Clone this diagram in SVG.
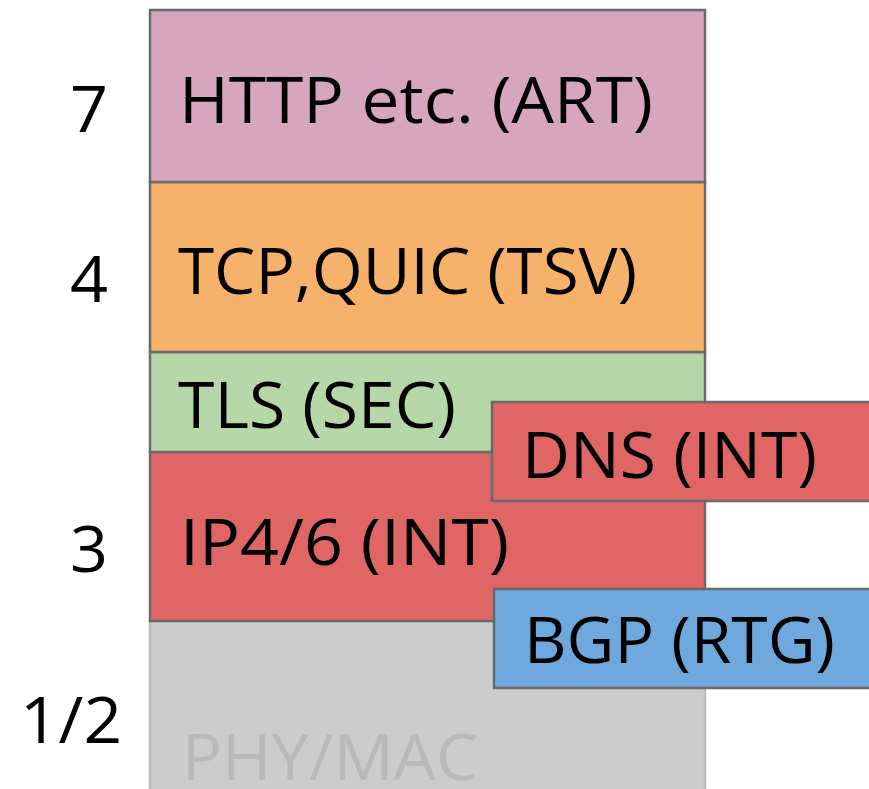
<svg xmlns="http://www.w3.org/2000/svg" width="869" height="789" viewBox="0 0 869 789">
<style>
.box{stroke:#6a6a6a;stroke-width:2.5}
.t{font-family:"Open Sans","Noto Sans","Liberation Sans",sans-serif;font-size:64px;fill:#000}
.n{font-family:"Open Sans","Noto Sans","Liberation Sans",sans-serif;font-size:64px;fill:#000}
</style>
<rect width="869" height="789" fill="#fff"/>
<g id="labels">
<text class="n" x="70" y="132" textLength="38" lengthAdjust="spacingAndGlyphs">7</text>
<text class="n" x="70" y="302" textLength="38" lengthAdjust="spacingAndGlyphs">4</text>
<text class="n" x="70" y="572" textLength="38" lengthAdjust="spacingAndGlyphs">3</text>
<text class="n" x="20" y="743" textLength="102" lengthAdjust="spacingAndGlyphs">1/2</text>
</g>
<g id="phy">
<rect x="150" y="621" width="555" height="200" fill="#cccccc" stroke="#bdbdbd" stroke-width="2.5"/>
<text class="t" x="182" y="780" textLength="296" lengthAdjust="spacingAndGlyphs" style="fill:#b9b9b9">PHY/MAC</text>
</g>
<g id="ip">
<rect class="box" x="150" y="452" width="555" height="169" fill="#e06666"/>
<text class="t" x="180" y="565" textLength="329" lengthAdjust="spacingAndGlyphs">IP4/6 (INT)</text>
</g>
<g id="tls">
<rect class="box" x="150" y="352" width="555" height="100" fill="#b6d7a8"/>
<text class="t" x="178" y="428" textLength="278" lengthAdjust="spacingAndGlyphs">TLS (SEC)</text>
</g>
<g id="tcp">
<rect class="box" x="150" y="182" width="555" height="170" fill="#f6b26b"/>
<text class="t" x="178" y="294" textLength="459" lengthAdjust="spacingAndGlyphs">TCP,QUIC (TSV)</text>
</g>
<g id="http">
<rect class="box" x="150" y="10" width="555" height="172" fill="#d5a6bd"/>
<text class="t" x="179" y="123" textLength="474" lengthAdjust="spacingAndGlyphs">HTTP etc. (ART)</text>
</g>
<g id="dns">
<rect class="box" x="492" y="402" width="420" height="99" fill="#e06666"/>
<text class="t" x="522" y="478" textLength="295" lengthAdjust="spacingAndGlyphs">DNS (INT)</text>
</g>
<g id="bgp">
<rect class="box" x="494" y="589" width="420" height="99" fill="#6fa8dc"/>
<text class="t" x="524" y="663" textLength="311" lengthAdjust="spacingAndGlyphs">BGP (RTG)</text>
</g>
<g id="connectors"></g>
</svg>
